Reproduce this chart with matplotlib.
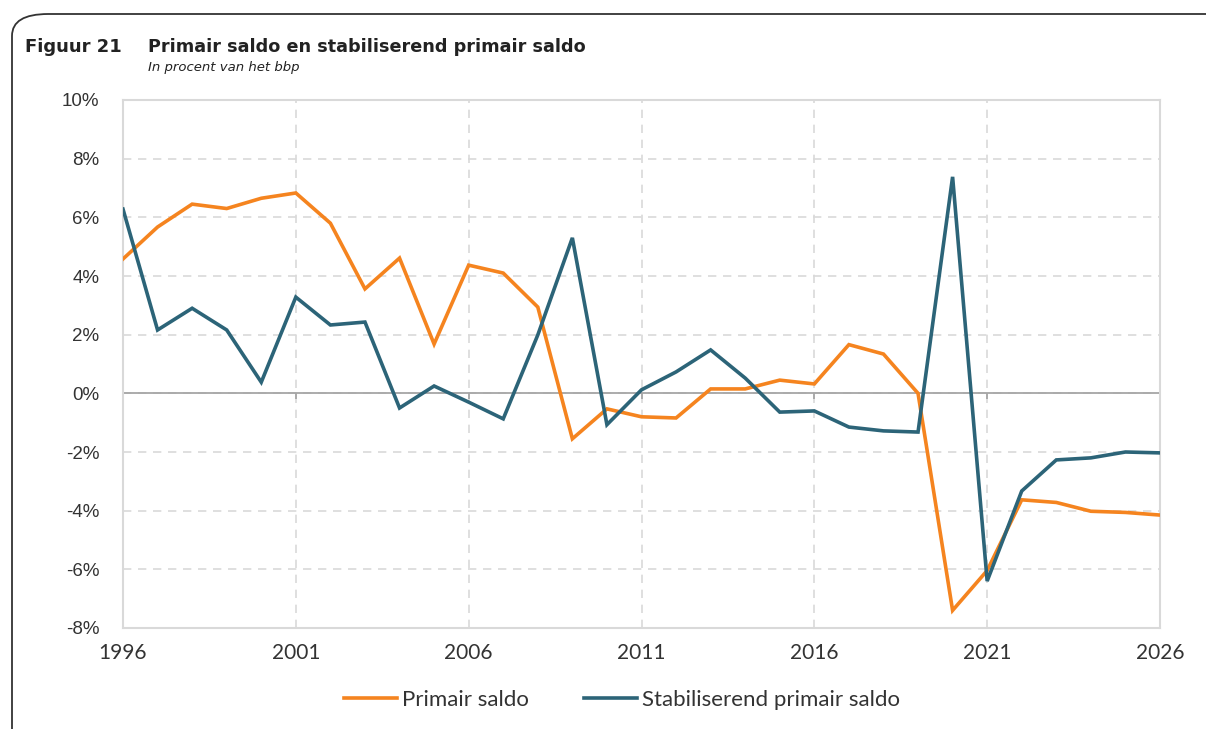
import matplotlib
matplotlib.use("Agg")
import matplotlib.pyplot as plt
from matplotlib.patches import FancyBboxPatch

years = list(range(1996, 2027))
primair = [4.58, 5.67, 6.45, 6.30, 6.65, 6.83, 5.80, 3.56, 4.61, 1.68,
           4.37, 4.10, 2.94, -1.55, -0.53, -0.80, -0.84, 0.15, 0.15, 0.45,
           0.32, 1.66, 1.34, 0.00, -7.40, -6.04, -3.63, -3.72, -4.02, -4.06,
           -4.15]
stabiliserend = [6.28, 2.16, 2.90, 2.16, 0.38, 3.28, 2.33, 2.43, -0.50, 0.25,
                 -0.30, -0.87, 1.99, 5.30, -1.07, 0.12, 0.73, 1.48, 0.52, -0.64,
                 -0.60, -1.15, -1.28, -1.32, 7.38, -6.40, -3.33, -2.27, -2.20, -2.00,
                 -2.03]
xticks = [1996, 2001, 2006, 2011, 2016, 2021, 2026]
yticks = list(range(-8, 11, 2))

orange = "#F5841F"
teal = "#2C6478"
xfont = "Lato"
yfont = "Liberation Sans"

fig = plt.figure(figsize=(12.06, 7.29), dpi=100)

# rounded frame around the figure, open to the right and bottom
frame = FancyBboxPatch((12 / 1206, -0.1), 1.2, 1 - 14 / 729 + 0.1,
                       boxstyle="round,pad=0,rounding_size=0.03",
                       transform=fig.transFigure, fill=False,
                       edgecolor="#333333", linewidth=1.3, clip_on=False)
fig.patches.append(frame)

fig.text(25 / 1206, 1 - 47 / 729, "Figuur 21", fontsize=13, fontweight="bold",
         family="DejaVu Sans", color="#222222", va="center")
fig.text(148 / 1206, 1 - 47 / 729, "Primair saldo en stabiliserend primair saldo",
         fontsize=12.7, fontweight="bold", family="DejaVu Sans", color="#222222",
         va="center")
fig.text(148 / 1206, 1 - 67 / 729, "In procent van het bbp", fontsize=9.5,
         style="italic", family="DejaVu Sans", color="#222222", va="center")

ax = fig.add_axes([123 / 1206, 1 - 628 / 729, 1037 / 1206, 528 / 729])
ax.plot(years, primair, color=orange, lw=2.6, label="Primair saldo",
        solid_joinstyle="miter", zorder=3)
ax.plot(years, stabiliserend, color=teal, lw=2.6,
        label="Stabiliserend primair saldo", solid_joinstyle="miter", zorder=4)

ax.set_xlim(1996, 2026)
ax.set_ylim(-8, 10)
ax.set_xticks(xticks)
ax.set_yticks(yticks)
ax.set_yticklabels([f"{v}%" for v in yticks])
ax.tick_params(length=0, colors="#333333")
ax.tick_params(axis="x", labelsize=15, pad=11)
ax.tick_params(axis="y", labelsize=13.5, pad=17)
for lab in ax.get_xticklabels():
    lab.set_family(xfont)
for lab in ax.get_yticklabels():
    lab.set_family(yfont)
ax.grid(True, color="#d9d9d9", linestyle=(0, (5, 4)), linewidth=1.2, zorder=0)
for s in ax.spines.values():
    s.set_color("#d9d9d9")
    s.set_linewidth(1.5)
ax.axhline(0, color="#a6a6a6", lw=1.3, zorder=2)
ax.vlines(xticks, -0.18, 0, color="#a6a6a6", lw=1.3, zorder=2)

leg = ax.legend(loc="upper center", bbox_to_anchor=(0.481, -0.08), ncol=2,
                frameon=False, handlelength=2.4,
                handletextpad=0.2, columnspacing=2.5,
                prop={"family": xfont, "size": 16})
for t in leg.get_texts():
    t.set_color("#333333")

fig.savefig("out.png", dpi=100)
